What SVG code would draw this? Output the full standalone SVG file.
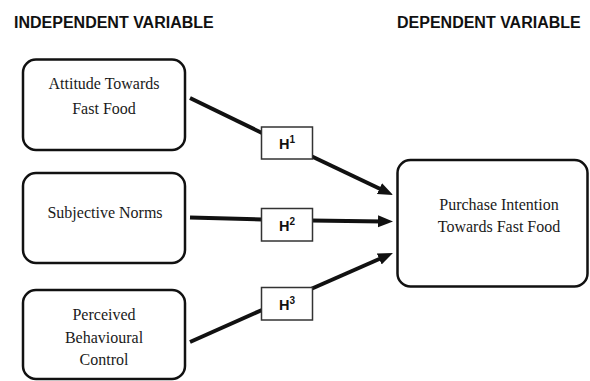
<svg xmlns="http://www.w3.org/2000/svg" width="590" height="381" viewBox="0 0 590 381">
<style>
.hdr{font-family:"Liberation Sans",Arial,sans-serif;font-weight:bold;font-size:16px;fill:#111}
.node{fill:#fff;stroke:#111;stroke-width:2.5}
.lbl{font-family:"Liberation Serif","Times New Roman",serif;font-size:16px;fill:#1a1a1a;text-anchor:middle}
.hbox{fill:#fff;stroke:#333;stroke-width:1.5}
.h{font-family:"Liberation Sans",Arial,sans-serif;font-weight:bold;font-size:14.5px;fill:#111;text-anchor:middle}
.conn{stroke:#111;stroke-width:4;fill:none}
</style>
<defs>
<marker id="ah" markerUnits="userSpaceOnUse" markerWidth="16" markerHeight="13" refX="5" refY="6" orient="auto">
<path d="M0,0 L15,6 L0,12 z" fill="#111"/>
</marker>
</defs>
<text class="hdr" x="14" y="28">INDEPENDENT VARIABLE</text>
<text class="hdr" x="397" y="28">DEPENDENT VARIABLE</text>
<g id="connectors">
<line class="conn" x1="190" y1="98" x2="262" y2="133"/>
<line class="conn" x1="311" y1="156" x2="384" y2="190.7" marker-end="url(#ah)"/>
<line class="conn" x1="190" y1="217.5" x2="262" y2="219.5"/>
<line class="conn" x1="311" y1="220.5" x2="383" y2="221.4" marker-end="url(#ah)"/>
<line class="conn" x1="190" y1="342" x2="262" y2="310"/>
<line class="conn" x1="311" y1="289" x2="383.8" y2="257" marker-end="url(#ah)"/>
</g>
<g id="attitude">
<rect class="node" x="23" y="59.5" width="162" height="90.5" rx="13"/>
<text class="lbl" x="104" y="89">Attitude Towards</text>
<text class="lbl" x="104" y="114">Fast Food</text>
</g>
<g id="norms">
<rect class="node" x="23" y="173" width="162" height="90" rx="13"/>
<text class="lbl" x="105" y="218">Subjective Norms</text>
</g>
<g id="pbc">
<rect class="node" x="23" y="290" width="162" height="89" rx="13"/>
<text class="lbl" x="104" y="320">Perceived</text>
<text class="lbl" x="104" y="343">Behavioural</text>
<text class="lbl" x="104" y="365">Control</text>
</g>
<g id="h1">
<rect class="hbox" x="261.5" y="127" width="51" height="32"/>
<text class="h" x="287" y="149">H<tspan font-size="10" dy="-6">1</tspan></text>
</g>
<g id="h2">
<rect class="hbox" x="261.5" y="208.5" width="51" height="32.5"/>
<text class="h" x="287" y="231">H<tspan font-size="10" dy="-6">2</tspan></text>
</g>
<g id="h3">
<rect class="hbox" x="261.5" y="287.5" width="51" height="32.5"/>
<text class="h" x="287" y="310">H<tspan font-size="10" dy="-6">3</tspan></text>
</g>
<g id="purchase">
<rect class="node" x="397.5" y="160" width="190" height="126.5" rx="13"/>
<text class="lbl" x="499" y="210">Purchase Intention</text>
<text class="lbl" x="499" y="232">Towards Fast Food</text>
</g>
</svg>
